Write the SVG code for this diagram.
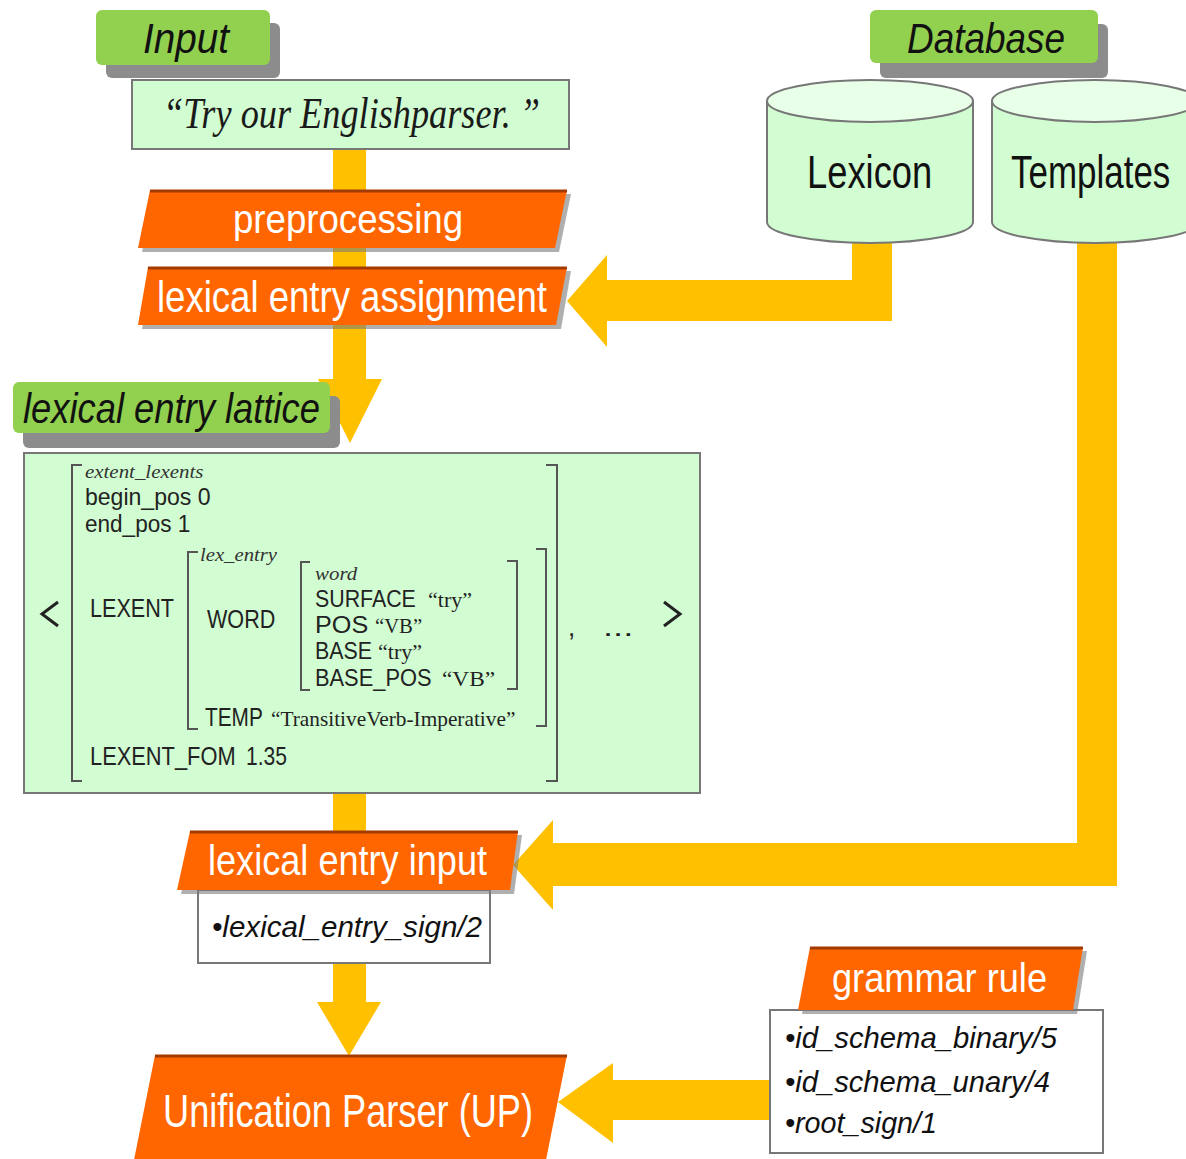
<svg xmlns="http://www.w3.org/2000/svg" width="1186" height="1159" viewBox="0 0 1186 1159">
  <defs>
    <style>
      .band { fill: #ffc000; }
      .tag { fill: #92d050; }
      .tagshadow { fill: #8c8c8c; }
      .tagtext { font-family: "Liberation Sans", Arial, sans-serif; font-style: italic; fill: #111; }
      .step { fill: #ff6600; }
      .stepshadow { fill: #7a7a7a; opacity: 0.6; }
      .stepedge { stroke: #a33a00; stroke-width: 3; fill: none; }
      .steptext { font-family: "Liberation Sans", Arial, sans-serif; fill: #ffffff; }
      .pale { fill: #d2fdd2; stroke: #777; stroke-width: 2; }
      .cyltop { fill: #e8ffe8; stroke: #777; stroke-width: 2; }
      .list { fill: #ffffff; stroke: #777; stroke-width: 2; }
      .listtext { font-family: "Liberation Sans", Arial, sans-serif; font-style: italic; font-size: 29px; fill: #111; }
      .sans { font-family: "Liberation Sans", Arial, sans-serif; font-size: 26px; fill: #222; }
      .feat { font-family: "Liberation Sans", Arial, sans-serif; font-size: 24px; fill: #222; }
      .serif { font-family: "Liberation Serif", "Times New Roman", serif; font-size: 22px; fill: #222; }
      .type { font-family: "Liberation Serif", "Times New Roman", serif; font-style: italic; font-size: 19px; fill: #333; }
      .store { font-family: "Liberation Sans", Arial, sans-serif; font-size: 46px; fill: #111; }
      .brk { fill: none; stroke: #555; stroke-width: 2; }
      .angle { fill: none; stroke: #222; stroke-width: 3; }
    </style>
  </defs>

  <!-- connectors: thick yellow flow bands -->
  <g id="connectors">
    <!-- input -> preprocessing -> assignment -> lattice -->
    <rect class="band" x="333" y="148" width="33" height="232"/>
    <polygon class="band" points="318,379 382,379 350,443"/>
    <!-- lexicon -> lexical entry assignment -->
    <path class="band" d="M852,240 L892,240 L892,321 L607,321 L607,280 L852,280 Z"/>
    <polygon class="band" points="607,255 607,347 567,301"/>
    <!-- templates -> lexical entry input -->
    <path class="band" d="M1077,240 L1117,240 L1117,886 L553,886 L553,843 L1077,843 Z"/>
    <polygon class="band" points="553,820 553,910 513,865"/>
    <!-- lattice -> lexical entry input -->
    <rect class="band" x="333" y="792" width="33" height="40"/>
    <!-- lexical entry input -> UP -->
    <rect class="band" x="333" y="962" width="33" height="41"/>
    <polygon class="band" points="317,1002 381,1002 349,1056"/>
    <!-- grammar rule -> UP -->
    <rect class="band" x="612" y="1080" width="160" height="40"/>
    <polygon class="band" points="613,1063 613,1143 558,1102"/>
  </g>

  <!-- Input tag -->
  <g id="input-tag">
    <rect class="tagshadow" x="106" y="23" width="174" height="55" rx="6"/>
    <rect class="tag" x="96" y="10" width="174" height="55" rx="6"/>
    <text class="tagtext" x="143" y="53" font-size="42" textLength="86" lengthAdjust="spacingAndGlyphs">Input</text>
  </g>

  <!-- input sentence -->
  <g id="input-sentence">
    <rect class="pale" x="132" y="80" width="437" height="69"/>
    <text x="163" y="128" font-family="'Liberation Serif', 'Times New Roman', serif" font-style="italic" font-size="44" fill="#1a1a1a" textLength="377" lengthAdjust="spacingAndGlyphs">“Try our Englishparser. ”</text>
  </g>

  <!-- preprocessing step -->
  <g id="preprocessing">
    <polygon class="stepshadow" points="153,194 571,194 559,252 142,252"/>
    <polygon class="step" points="150,190 567,190 555,248 138,248"/>
    <line class="stepedge" x1="150" y1="191" x2="567" y2="191"/>
    <text class="steptext" x="233" y="233" font-size="41" textLength="230" lengthAdjust="spacingAndGlyphs">preprocessing</text>
  </g>

  <!-- lexical entry assignment step -->
  <g id="lexical-entry-assignment">
    <polygon class="stepshadow" points="152,271 571,271 561,329 142,329"/>
    <polygon class="step" points="148,267 567,267 556,325 138,325"/>
    <line class="stepedge" x1="148" y1="268" x2="567" y2="268"/>
    <text class="steptext" x="157" y="312" font-size="44" textLength="390" lengthAdjust="spacingAndGlyphs">lexical entry assignment</text>
  </g>

  <!-- Database tag -->
  <g id="database-tag">
    <rect class="tagshadow" x="880" y="24" width="228" height="54" rx="6"/>
    <rect class="tag" x="870" y="10" width="228" height="53" rx="6"/>
    <text class="tagtext" x="907" y="53" font-size="42" textLength="158" lengthAdjust="spacingAndGlyphs">Database</text>
  </g>

  <!-- Lexicon store -->
  <g id="lexicon">
    <path class="pale" d="M767,101 L767,222 A103,21 0 0 0 973,222 L973,101 Z"/>
    <ellipse class="cyltop" cx="870" cy="101" rx="103" ry="21"/>
    <text class="store" transform="translate(807,188) scale(0.79,1)">Lexicon</text>
  </g>

  <!-- Templates store -->
  <g id="templates">
    <path class="pale" d="M992,101 L992,222 A103,21 0 0 0 1198,222 L1198,101 Z"/>
    <ellipse class="cyltop" cx="1095" cy="101" rx="103" ry="21"/>
    <text class="store" transform="translate(1011,188) scale(0.76,1)">Templates</text>
  </g>

  <!-- lexical entry lattice tag -->
  <g id="lattice-tag">
    <rect class="tagshadow" x="23" y="396" width="317" height="52" rx="6"/>
    <rect class="tag" x="13" y="382" width="317" height="51" rx="6"/>
    <text class="tagtext" x="23" y="423" font-size="43" textLength="297" lengthAdjust="spacingAndGlyphs">lexical entry lattice</text>
  </g>

  <!-- lexical entry lattice: feature structure -->
  <g id="lattice">
    <rect class="pale" x="24" y="453" width="676" height="340"/>
    <!-- list delimiters -->
    <polyline class="angle" points="58,602 42,614 58,626"/>
    <polyline class="angle" points="664,602 680,614 664,626"/>
    <!-- extent_lexents brackets -->
    <path class="brk" d="M82,465 L72,465 L72,781 L82,781"/>
    <path class="brk" d="M546,465 L557,465 L557,781 L546,781"/>
    <text class="type" transform="translate(85,478) scale(1.1,1)">extent_lexents</text>
    <text class="feat" transform="translate(85,505) scale(0.96,1)">begin_pos 0</text>
    <text class="feat" transform="translate(85,532) scale(0.94,1)">end_pos 1</text>
    <text class="sans" transform="translate(90,617) scale(0.83,1)">LEXENT</text>
    <!-- lex_entry brackets -->
    <path class="brk" d="M198,552 L188,552 L188,729 L198,729"/>
    <path class="brk" d="M536,549 L546,549 L546,726 L536,726"/>
    <text class="type" transform="translate(200,561) scale(1.09,1)">lex_entry</text>
    <text class="sans" transform="translate(207,628) scale(0.83,1)">WORD</text>
    <!-- word brackets -->
    <path class="brk" d="M310,562 L301,562 L301,690 L310,690"/>
    <path class="brk" d="M507,561 L517,561 L517,689 L507,689"/>
    <text class="type" transform="translate(315,580) scale(1.1,1)">word</text>
    <text class="feat" transform="translate(315,607) scale(0.89,1)">SURFACE</text>
    <text class="serif" x="428" y="607">“try”</text>
    <text class="feat" transform="translate(315,633) scale(1.05,1)">POS</text>
    <text class="serif" transform="translate(375,633) scale(0.94,1)">“VB”</text>
    <text class="feat" transform="translate(315,659) scale(0.89,1)">BASE</text>
    <text class="serif" x="378" y="659">“try”</text>
    <text class="feat" transform="translate(315,686) scale(0.91,1)">BASE_POS</text>
    <text class="serif" transform="translate(442,686) scale(1.06,1)">“VB”</text>
    <text class="sans" transform="translate(205,726) scale(0.8,1)">TEMP</text>
    <text class="serif" transform="translate(271,726) scale(0.97,1)">“TransitiveVerb-Imperative”</text>
    <text class="sans" transform="translate(90,765) scale(0.84,1)">LEXENT_FOM</text>
    <text class="sans" font-size="24" transform="translate(246,765) scale(0.81,1)">1.35</text>
    <text class="sans" font-size="32" x="568" y="636">,</text>
    <text class="sans" font-size="32" transform="translate(603,636) scale(1.4,1)">...</text>
  </g>

  <!-- lexical entry input step -->
  <g id="lexical-entry-input">
    <rect class="list" x="198" y="890" width="292" height="73"/>
    <text class="listtext" x="212" y="937" textLength="270" lengthAdjust="spacingAndGlyphs">•lexical_entry_sign/2</text>
    <polygon class="stepshadow" points="194,835 522,835 514,894 181,894"/>
    <polygon class="step" points="190,831 518,831 510,890 177,890"/>
    <line class="stepedge" x1="190" y1="832" x2="518" y2="832"/>
    <text class="steptext" x="208" y="875" font-size="42" textLength="279" lengthAdjust="spacingAndGlyphs">lexical entry input</text>
  </g>

  <!-- grammar rule step -->
  <g id="grammar-rule">
    <rect class="list" x="770" y="1010" width="333" height="143"/>
    <text class="listtext" x="785" y="1048" textLength="272" lengthAdjust="spacingAndGlyphs">•id_schema_binary/5</text>
    <text class="listtext" x="785" y="1092" textLength="265" lengthAdjust="spacingAndGlyphs">•id_schema_unary/4</text>
    <text class="listtext" x="785" y="1133" textLength="152" lengthAdjust="spacingAndGlyphs">•root_sign/1</text>
    <polygon class="stepshadow" points="814,951 1087,951 1077,1014 802,1014"/>
    <polygon class="step" points="810,947 1083,947 1073,1010 798,1010"/>
    <line class="stepedge" x1="810" y1="948" x2="1083" y2="948"/>
    <text class="steptext" x="832" y="992" font-size="40" textLength="215" lengthAdjust="spacingAndGlyphs">grammar rule</text>
  </g>

  <!-- Unification Parser -->
  <g id="unification-parser">
    <polygon class="step" points="155,1055 567,1055 544,1170 132,1170"/>
    <line class="stepedge" x1="155" y1="1056" x2="567" y2="1056"/>
    <text class="steptext" x="163" y="1127" font-size="46" textLength="370" lengthAdjust="spacingAndGlyphs">Unification Parser (UP)</text>
  </g>
</svg>
